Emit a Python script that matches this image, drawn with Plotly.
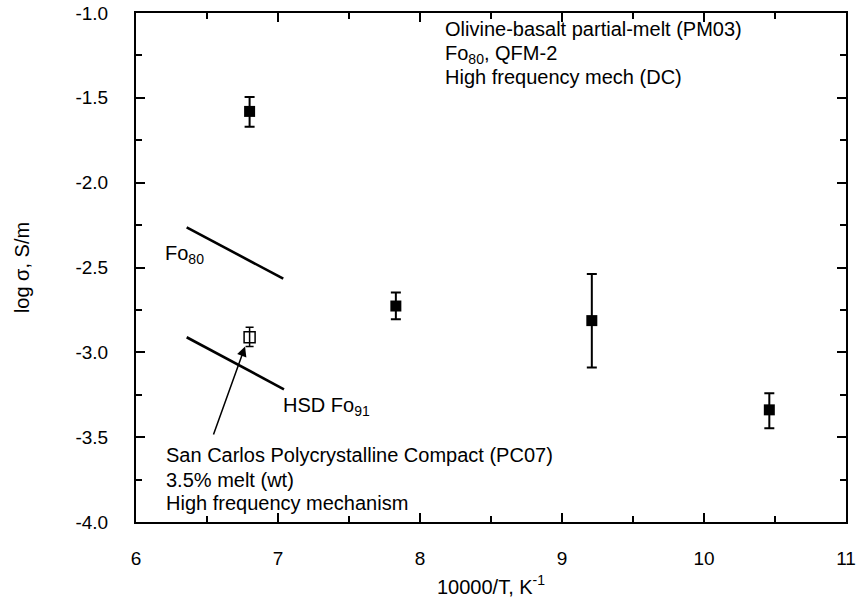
import plotly.graph_objects as go

# PM03 olivine-basalt partial melt (filled squares)
pm_x = [6.80, 7.83, 9.21, 10.46]
pm_y = [-1.58, -2.727, -2.813, -3.339]
pm_err_plus = [0.085, 0.079, 0.275, 0.098]
pm_err_minus = [0.09, 0.078, 0.277, 0.108]

# PC07 San Carlos polycrystalline compact (open square)
pc_x = [6.80]
pc_y = [-2.911]
pc_err_plus = [0.059]
pc_err_minus = [0.055]

# Reference lines
fo80_x = [6.357, 7.037]
fo80_y = [-2.263, -2.566]
hsd_x = [6.357, 7.042]
hsd_y = [-2.911, -3.218]

FONT = "Liberation Sans, Arial, Helvetica, sans-serif"
TXT = 20

fig = go.Figure()
fig.add_trace(go.Scatter(x=fo80_x, y=fo80_y, mode="lines",
                         line=dict(color="black", width=2.6), showlegend=False))
fig.add_trace(go.Scatter(x=hsd_x, y=hsd_y, mode="lines",
                         line=dict(color="black", width=2.6), showlegend=False))
fig.add_trace(go.Scatter(
    x=pm_x, y=pm_y, mode="markers",
    marker=dict(symbol="square", size=11, color="black"),
    error_y=dict(type="data", symmetric=False, array=pm_err_plus,
                 arrayminus=pm_err_minus, color="black", thickness=2, width=5),
    showlegend=False))
fig.add_trace(go.Scatter(
    x=pc_x, y=pc_y, mode="markers",
    marker=dict(symbol="square-open", size=11, color="black", line=dict(width=1.5)),
    error_y=dict(type="data", symmetric=False, array=pc_err_plus,
                 arrayminus=pc_err_minus, color="black", thickness=1.5, width=4),
    showlegend=False))

annots = [
    dict(x=8.16, y=-1.094, text="Olivine-basalt partial-melt (PM03)"),
    dict(x=8.16, y=-1.245, text="Fo<sub>80</sub>, QFM-2"),
    dict(x=8.16, y=-1.377, text="High frequency mech (DC)"),
    dict(x=6.19, y=-2.425, text="Fo<sub>80</sub>"),
    dict(x=7.02, y=-3.32, text="HSD Fo<sub>91</sub>"),
    dict(x=6.20, y=-3.605, text="San Carlos Polycrystalline Compact (PC07)"),
    dict(x=6.20, y=-3.752, text="3.5% melt (wt)"),
    dict(x=6.20, y=-3.888, text="High frequency mechanism"),
]
for a in annots:
    fig.add_annotation(x=a["x"], y=a["y"], text=a["text"], showarrow=False,
                       xanchor="left", yanchor="middle",
                       font=dict(family=FONT, size=TXT, color="black"))

# arrow pointing to PC07 point
fig.add_annotation(x=6.768, y=-2.966, ax=6.542, ay=-3.493, axref="x", ayref="y",
                   text="", showarrow=True, arrowhead=2, arrowsize=1.3,
                   arrowwidth=1.5, arrowcolor="black")

fig.update_xaxes(range=[6, 11], tickvals=[6, 7, 8, 9, 10, 11],
                 ticktext=["6", "7", "8", "9", "10", "11"],
                 ticks="inside", ticklen=9, tickwidth=1.5, tickcolor="black",
                 minor=dict(dtick=0.5, ticks="inside", ticklen=6, tickwidth=1.5, tickcolor="black"),
                 showline=True, linecolor="black", linewidth=2, mirror="ticks",
                 showgrid=False, zeroline=False, automargin=False,
                 ticklabelstandoff=18,
                 tickfont=dict(family=FONT, size=19, color="black"),
                 title=dict(text="10000/T, K<sup>-1</sup>", font=dict(family=FONT, size=TXT, color="black"),
                            standoff=12))
fig.update_yaxes(range=[-4, -1], tickvals=[-4, -3.5, -3, -2.5, -2, -1.5, -1],
                 ticktext=["-4.0", "-3.5", "-3.0", "-2.5", "-2.0", "-1.5", "-1.0"],
                 ticks="inside", ticklen=9, tickwidth=1.5, tickcolor="black",
                 minor=dict(dtick=0.25, ticks="inside", ticklen=6, tickwidth=1.5, tickcolor="black"),
                 showline=True, linecolor="black", linewidth=2, mirror="ticks",
                 showgrid=False, zeroline=False, automargin=False,
                 ticklabelstandoff=22,
                 tickfont=dict(family=FONT, size=19, color="black"),
                 title=dict(text="log σ, S/m", font=dict(family=FONT, size=TXT, color="black"),
                            standoff=40))

fig.update_layout(width=859, height=606,
                  margin=dict(l=136, r=13, t=13, b=84),
                  paper_bgcolor="white", plot_bgcolor="white",
                  font=dict(family=FONT, color="black"))

fig.write_html("out.html")
